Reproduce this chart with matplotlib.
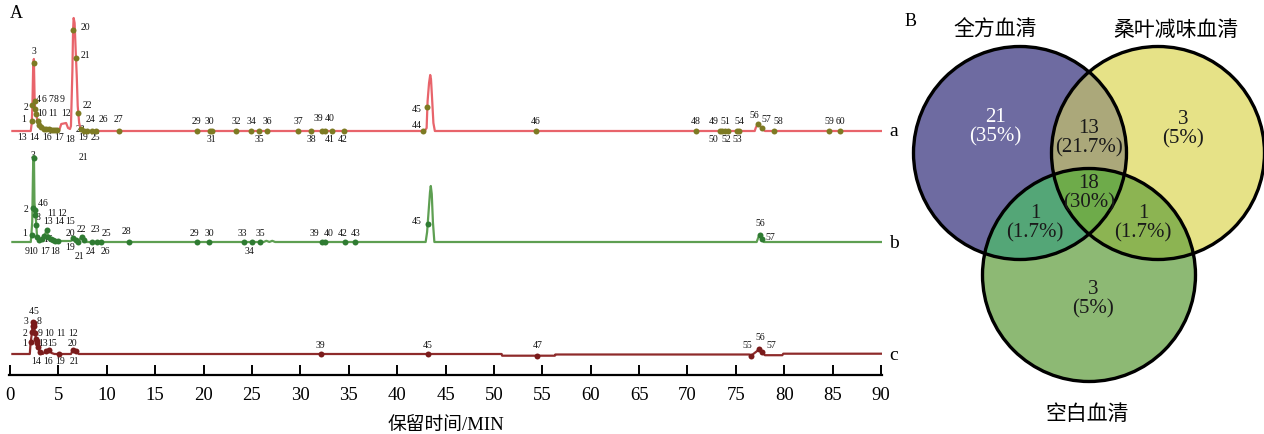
import numpy as np
import matplotlib
matplotlib.use("Agg")
import matplotlib.pyplot as plt
from matplotlib.patches import Circle
from matplotlib.colors import to_rgba

SERIF = ['Liberation Serif', 'Noto Sans CJK SC']
plt.rcParams['font.family'] = SERIF

# ------------------------------------------------------------------ data
# chromatogram traces: retention time (min) and relative intensity
trace_a_t = [0.25, 2.15, 2.25, 2.32, 2.4, 2.47, 2.55, 2.6, 2.7, 2.85, 3.0, 3.2, 3.4, 3.7, 4.0, 4.5,
             5.1, 5.3, 5.8, 6.0, 6.2, 6.3, 6.45, 6.52, 6.58, 6.68, 6.8, 6.9, 7.0, 7.07, 7.15, 7.3, 7.6,
             42.85, 43.05, 43.15, 43.3, 43.42, 43.5, 43.6, 43.75, 43.9,
             76.95, 77.05, 77.3, 77.5, 77.75, 78.0, 90.0]
trace_a_h = [0, 0, 8, 26, 66, 72, 30, 22, 17, 10, 6, 4, 3, 2, 2, 1,
             1, 7, 8, 3, 2, 5, 60, 101, 113, 108, 78, 55, 25, 17, 8, 2, 0,
             0, 3, 30, 48, 56, 52, 35, 8, 0,
             0, 3, 8, 5, 2, 0, 0]

trace_b_t = [0.25, 2.15, 2.2, 2.3, 2.38, 2.42, 2.48, 2.53, 2.58, 2.65, 2.72, 2.8, 2.9, 3.05, 3.3,
             3.55, 3.8, 3.95, 4.2, 4.6, 5.0, 6.3, 6.55, 6.8, 7.05, 7.3, 7.42, 7.6, 7.8,
             26.2, 26.5, 26.8, 27.1, 27.4, 42.95, 43.1, 43.25, 43.4, 43.48, 43.58, 43.7, 43.85,
             77.15, 77.3, 77.45, 77.6, 77.9, 90.0]
trace_b_h = [0, 0, 6, 20, 70, 86, 84, 40, 32, 27, 17, 5, 2, 2, 3,
             6, 12, 5, 3, 1.5, 1, 1, 4, 2, 0.5, 4, 6, 2, 0,
             0, 1.2, 0, 1.2, 0, 0, 10, 30, 50, 56, 48, 20, 0,
             0, 4, 7, 4, 0, 0]

trace_c_t = [0.25, 2.05, 2.12, 2.25, 2.36, 2.44, 2.5, 2.58, 2.68, 2.8, 2.95, 3.1, 3.4, 3.7, 4.0,
             4.3, 4.6, 6.3, 6.5, 6.85, 7.1, 50.8, 50.85, 56.3, 56.35, 76.4, 76.6, 76.8, 77.2,
             77.4, 77.7, 78.0, 79.8, 79.9, 90.0]
trace_c_h = [0, 0, 10, 20, 30, 32, 28, 22, 16, 11, 5, 2, 0, 3, 4,
             1, 0, 0, 4, 3, 0, 0, -1.7, -1.7, -0.5, -0.5, -2, 0, 3,
             5, 2, -1.2, -1.2, 0.3, 0.3]

# identified peaks: number, retention time, intensity at the marker
peaks_a_id = [1, 2, 3, 4, 6, 7, 8, 9, 10, 11, 12, 13, 14, 16, 17, 18, 20, 21, 22, 23, 19, 24, 25,
              26, 27, 29, 30, 31, 32, 34, 35, 36, 37, 38, 39, 40, 41, 42, 44, 45, 46, 48, 49,
              50, 51, 52, 53, 54, 56, 57, 58, 59, 60]
peaks_a_t = [2.25, 2.32, 2.46, 2.57, 2.62, 2.72, 2.85, 3.0, 3.2, 3.5, 3.75, 4.0, 4.2, 4.45, 4.7,
             4.9, 6.52, 6.82, 7.06, 7.35, 7.65, 8.0, 8.45, 8.9, 11.25, 19.3, 20.65, 20.85, 23.4,
             24.95, 25.75, 26.6, 29.8, 31.15, 32.2, 32.5, 33.3, 34.5, 42.65, 43.13, 54.3, 70.85,
             73.4, 73.6, 73.85, 74.15, 75.15, 75.3, 77.3, 77.65, 78.9, 84.65, 85.8]
peaks_a_h = [10, 26, 68, 30, 22, 17, 10, 6, 4, 2.5, 2, 2, 1.5, 1, 1, 1, 101, 73, 18, 2, 0, 0, 0,
             0, 0, 0, 0, 0, 0, 0, 0, 0, 0, 0, 0, 0, 0, 0, 0, 24, 0, 0,
             0, 0, 0, 0, 0, 0, 7, 3, 0, 0, 0]

peaks_b_id = [1, 2, 3, 4, 6, 8, 9, 10, 11, 12, 13, 14, 15, 16, 17, 18, 19, 20, 21, 22, 23, 24, 25,
              26, 28, 29, 30, 33, 34, 35, 39, 40, 42, 43, 45, 56, 57]
peaks_b_t = [2.24, 2.38, 2.44, 2.55, 2.62, 2.68, 2.75, 3.0, 3.3, 3.5, 3.8, 3.95, 4.2, 4.4, 4.65,
             4.95, 6.55, 6.8, 7.05, 7.4, 7.6, 8.45, 8.95, 9.45, 12.25, 19.3, 20.6, 24.2, 25.0,
             25.8, 32.2, 32.5, 34.6, 35.7, 43.2, 77.45, 77.75]
peaks_b_h = [7, 34, 84, 32, 27, 17, 5, 2, 3, 6, 12, 5, 3, 2, 1.5, 1, 4, 2, 0.5, 5, 2, 0, 0, 0, 0,
             0, 0, 0, 0, 0, 0, 0, 0, 0, 18, 7, 3]

peaks_c_id = [1, 2, 3, 4, 5, 8, 9, 10, 11, 12, 13, 14, 15, 16, 19, 20, 21, 39, 45, 47, 55, 56, 57]
peaks_c_t = [2.14, 2.3, 2.38, 2.42, 2.46, 2.5, 2.6, 2.7, 2.8, 2.9, 2.75, 3.1, 4.0, 3.7, 5.1, 6.55,
             6.8, 32.1, 43.2, 54.5, 76.6, 77.4, 77.7]
peaks_c_h = [12, 22, 28, 32, 31, 28, 21, 15, 11, 7, 13, 2, 4, 3, 0, 4, 3, 0, 0.5, -1.7, -2, 5, 2]

trace_names = ['a', 'b', 'c']
x_ticks = list(range(0, 91, 5))
x_label = '保留时间/MIN'

# Venn diagram
venn_sets = ['全方血清', '桑叶减味血清', '空白血清']
venn_regions = ['A', 'AB', 'B', 'ABC', 'AC', 'BC', 'C']
venn_counts = [21, 13, 3, 18, 1, 1, 3]

# ------------------------------------------------------------------ layout / style
W, H = 1264, 434
fig = plt.figure(figsize=(W / 100, H / 100), dpi=100)

# full-figure pixel axes for the Venn diagram & panel letters
vax = fig.add_axes([0, 0, 1, 1])
vax.set_xlim(0, W)
vax.set_ylim(H, 0)
vax.axis('off')

# chromatogram axes (1 data unit in y == 1 pixel)
ax_left_px, ax_right_px, ax_bottom_px = 9, 882, 375
ax = fig.add_axes([ax_left_px / W, (H - ax_bottom_px) / H,
                   (ax_right_px - ax_left_px) / W, ax_bottom_px / H])
ax.patch.set_alpha(0)
ax.set_xlim(-0.1, 90.1)
ax.set_ylim(0, ax_bottom_px)
for s in ['top', 'left', 'right']:
    ax.spines[s].set_visible(False)
ax.spines['bottom'].set_linewidth(1.6)
ax.set_yticks([])
ax.set_xticks(x_ticks)
ax.tick_params(axis='x', direction='in', length=7.5, width=1.4, pad=9, labelsize=13.5)
ax.set_xlabel(x_label, fontsize=13.5, labelpad=9)

baselines = {'a': 244, 'b': 133, 'c': 21}
line_cols = {'a': '#e8646b', 'b': '#5e9f52', 'c': '#8e2b2b'}
mark_cols = {'a': '#7d7a23', 'b': '#2f7b32', 'c': '#7a1b1b'}

traces = {'a': (trace_a_t, trace_a_h), 'b': (trace_b_t, trace_b_h), 'c': (trace_c_t, trace_c_h)}
peaks = {'a': (peaks_a_id, peaks_a_t, peaks_a_h),
         'b': (peaks_b_id, peaks_b_t, peaks_b_h),
         'c': (peaks_c_id, peaks_c_t, peaks_c_h)}

# label placement: 'u' above, 'd' below, or (time, offset-from-baseline)
lab_a = {1: (1.45, 12), 2: (1.65, 24), 3: (2.48, 79), 4: (2.94, 31), 6: (3.56, 31), 7: (4.18, 31),
         8: (4.80, 31), 9: (5.42, 31), 10: (3.31, 18), 11: (4.44, 18), 12: (5.79, 18),
         13: (1.24, -7), 14: (2.48, -7), 16: (3.82, -7), 17: (5.06, -7), 18: (6.2, -9),
         19: (7.54, -7), 25: (8.78, -7), 20: (7.75, 104), 21: (7.75, 75), 22: (7.95, 25),
         23: (7.23, 2), 24: (8.27, 11), 26: (9.61, 11), 27: (11.16, 11),
         29: 'u', 30: 'u', 31: 'd', 32: 'u', 34: 'u', 35: 'd', 36: 'u', 37: 'u', 38: 'd',
         39: (31.83, 12.5), 40: (33.07, 12.5), 41: (33.07, -8), 42: (34.41, -8),
         44: (42.02, 6), 45: (42.02, 22), 46: 'u', 48: 'u',
         49: (72.67, 9), 50: (72.67, -8), 51: (73.88, 9), 52: (73.98, -8), 53: (75.19, -8),
         54: (75.36, 9), 56: (76.88, 16), 57: (78.12, 11), 58: (79.4, 9), 59: 'u', 60: 'u'}
lab_b = {1: (1.55, 9), 2: (1.65, 32), 3: (2.41, 87), 4: (3.1, 39), 6: (3.62, 39), 8: (2.93, 24),
         11: (4.31, 29), 12: (5.34, 29), 13: (3.96, 20), 14: (5.09, 20), 15: (6.2, 20),
         16: (3.93, 3), 20: (6.2, 8), 22: (7.41, 12.5), 23: (8.78, 12.5), 25: (9.92, 8),
         28: (12.06, 11), 9: (1.72, -9), 10: (2.41, -9), 17: (3.62, -9), 18: (4.65, -9),
         19: (6.2, -6), 21: (7.16, -14.5), 24: (8.37, -9), 26: (9.82, -9),
         29: (19.11, 9), 30: (20.56, 9), 33: (24.04, 9), 34: (24.73, -9.5), 35: (25.83, 9),
         39: (31.5, 9), 40: (32.96, 9), 42: (34.34, 9), 43: (35.75, 9), 45: (42.02, 20),
         56: (77.5, 19), 57: (78.6, 5)}
lab_c = {4: (2.15, 42), 5: (2.67, 42), 3: (1.65, 32), 8: (3.03, 32), 2: (1.55, 21), 9: (3.1, 21),
         10: (4.06, 21), 11: (5.27, 21), 12: (6.48, 21), 1: (1.55, 11), 13: (3.38, 11),
         15: (4.31, 11), 20: (6.48, 11), 14: (2.69, -8), 16: (3.96, -8), 19: (5.17, -8),
         21: (6.61, -8), 39: 'u', 45: 'u', 47: 'u', 55: (76.22, 9), 56: (77.5, 16),
         57: (78.7, 8)}
labels = {'a': lab_a, 'b': lab_b, 'c': lab_c}
extra = {'b': [('21', 7.6, 84)]}

for name in trace_names:
    base = baselines[name]
    t, h = traces[name]
    ax.plot(t, np.asarray(h) + base, color=line_cols[name], lw=1.6, zorder=2,
            solid_joinstyle='round')
    pid, pt, ph = peaks[name]
    ax.plot(pt, np.asarray(ph) + base, 'o', ms=4.3, color=mark_cols[name], mec='none', zorder=3)
    for i, tt, hh in zip(pid, pt, ph):
        spec = labels[name].get(i, 'u')
        if spec == 'u':
            lx, ly = tt, 9
        elif spec == 'd':
            lx, ly = tt, -8
        else:
            lx, ly = spec
        ax.text(lx, base + ly, str(i), fontsize=7, ha='center', va='center', zorder=1,
                color='#111111')
    for txt, lx, ly in extra.get(name, []):
        ax.text(lx, base + ly, txt, fontsize=7, ha='center', va='center', color='#111111')
    ax.text(91.3, base - 1, name, fontsize=14, ha='center', va='center', clip_on=False)

# panel letters
vax.text(16, 14, 'A', fontsize=13, ha='center', va='center')
vax.text(911, 22, 'B', fontsize=13, ha='center', va='center')

# ------------------------------------------------------------------ Venn
centers = [(1020, 153), (1158, 153), (1089, 275)]
rad = 106.5
region_cols = {'A': '#6f6ba2', 'B': '#e6e287', 'C': '#8dba75', 'AB': '#aca87b',
               'AC': '#54a678', 'BC': '#8cb452', 'ABC': '#6fab4a'}
x0, x1, y0, y1 = 900, 1264, 40, 400
xs = np.arange(x0, x1, 0.5) + 0.25
ys = np.arange(y0, y1, 0.5) + 0.25
X, Y = np.meshgrid(xs, ys)
ins = [(X - cx) ** 2 + (Y - cy) ** 2 <= rad ** 2 for cx, cy in centers]
img = np.zeros(X.shape + (4,))
for key, col in region_cols.items():
    m = np.ones(X.shape, bool)
    for k, letter in enumerate('ABC'):
        m &= ins[k] if letter in key else ~ins[k]
    img[m] = to_rgba(col)
vax.imshow(img, extent=(x0, x1, y1, y0), origin='upper', interpolation='bilinear',
           aspect='auto', zorder=1)
for cx, cy in centers:
    vax.add_patch(Circle((cx, cy), rad, fill=False, lw=2.4, ec='black', zorder=3))

total = sum(venn_counts)
text_pos = {'A': (995, 127), 'AB': (1089, 138), 'B': (1183, 129), 'ABC': (1089, 193),
            'AC': (1035, 223), 'BC': (1143, 223), 'C': (1093, 299)}
for key, n in zip(venn_regions, venn_counts):
    pct = f'{100 * n / total:.1f}'.rstrip('0').rstrip('.')
    x, y = text_pos[key]
    vax.text(x, y, f'{n}\n({pct}%)', fontsize=15, ha='center', va='center', linespacing=1.05,
             color='white' if key == 'A' else '#1a1a1a', zorder=4)

title_pos = [(995, 31), (1176, 31), (1087, 415)]
for name, (x, y) in zip(venn_sets, title_pos):
    vax.text(x, y, name, fontsize=15, ha='center', va='center')

fig.savefig('out.png', dpi=100)
